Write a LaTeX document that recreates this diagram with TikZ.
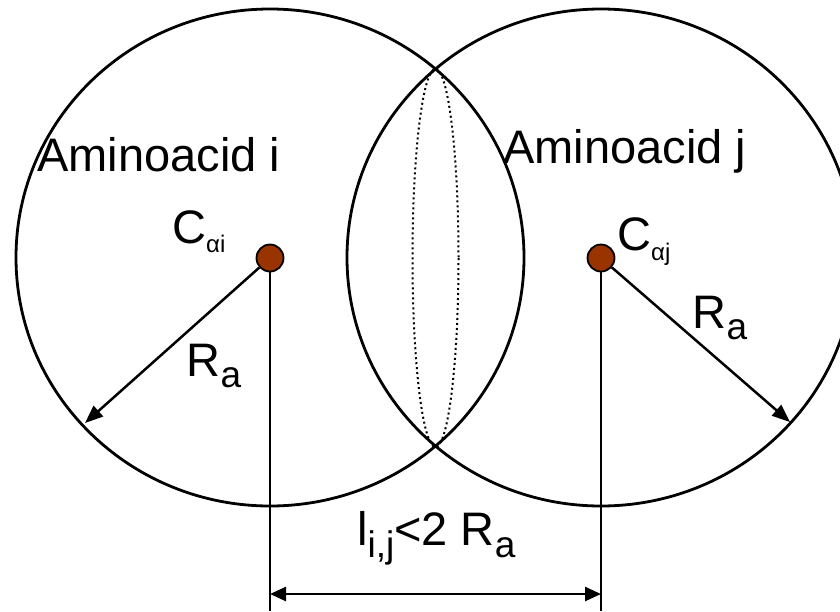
\documentclass[tikz,border=0pt]{standalone}
\usepackage{fontspec}
\setmainfont{Liberation Sans}
\usetikzlibrary{arrows.meta}
\definecolor{dotbrown}{HTML}{993300}
\newcommand\bigsub[2]{\raisebox{-#1}{\fontsize{37}{40}\selectfont #2}}
\newcommand\smallsub[2]{\raisebox{-#1}{\fontsize{24}{26}\selectfont #2}}
\begin{document}
\begin{tikzpicture}[x=1pt,y=-1pt,
  ring/.style={draw=black,line width=2.8pt},
  lens/.style={draw=black,line width=2pt,dash pattern=on 2pt off 3pt},
  atom/.style={circle,draw=black,line width=1.8pt,fill=dotbrown,minimum size=27pt,inner sep=0pt},
  guide/.style={draw=black,line width=1.6pt},
  radiusarrow/.style={draw=black,line width=2.5pt,-{Triangle[length=18pt,width=14pt]}},
  dimline/.style={draw=black,line width=2.6pt,{Triangle[length=16pt,width=14pt]}-{Triangle[length=16pt,width=14pt]}},
  lbl/.style={inner sep=0pt,anchor=base west,font=\fontsize{47}{50}\selectfont},
]
\useasboundingbox (0,0) rectangle (840,611);
\clip (0,0) rectangle (840,611);
\fill[white] (0,0) rectangle (840,611);
% spheres
\draw[ring] (270,257.5) ellipse [x radius=254, y radius=248.5];
\draw[ring] (601,257.5) ellipse [x radius=254, y radius=248.5];
\draw[lens] (435.5,258) ellipse [x radius=23, y radius=189];
% atoms
\node[atom] (ci) at (270,258) {};
\node[atom] (cj) at (601,258) {};
\coordinate (ei) at (85,423);
\coordinate (ej) at (790,422);
\coordinate (bi) at (270,611);
\coordinate (bj) at (601,611);
\coordinate (di) at (270,594);
\coordinate (dj) at (601,594);
% connectors
\draw[guide] (ci) -- (bi);
\draw[guide] (cj) -- (bj);
\draw[radiusarrow] (ci) -- (ei);
\draw[radiusarrow] (cj) -- (ej);
\draw[dimline] (di) -- (dj);
% labels
\node[lbl] (ami) at (37,171) {Aminoacid i};
\node[lbl] (amj) at (503,163) {Aminoacid j};
\node[lbl] (cai) at (172,243) {C\smallsub{9pt}{αi}};
\node[lbl] (caj) at (617,250) {C\smallsub{10pt}{αj}};
\node[lbl] (rai) at (186.5,376) {R\bigsub{11pt}{a}};
\node[lbl] (raj) at (692.5,328) {R\bigsub{11pt}{a}};
\node[lbl] (len) at (357,545) {l\bigsub{12pt}{i,j}<2 R\bigsub{12pt}{a}};
\end{tikzpicture}
\end{document}
